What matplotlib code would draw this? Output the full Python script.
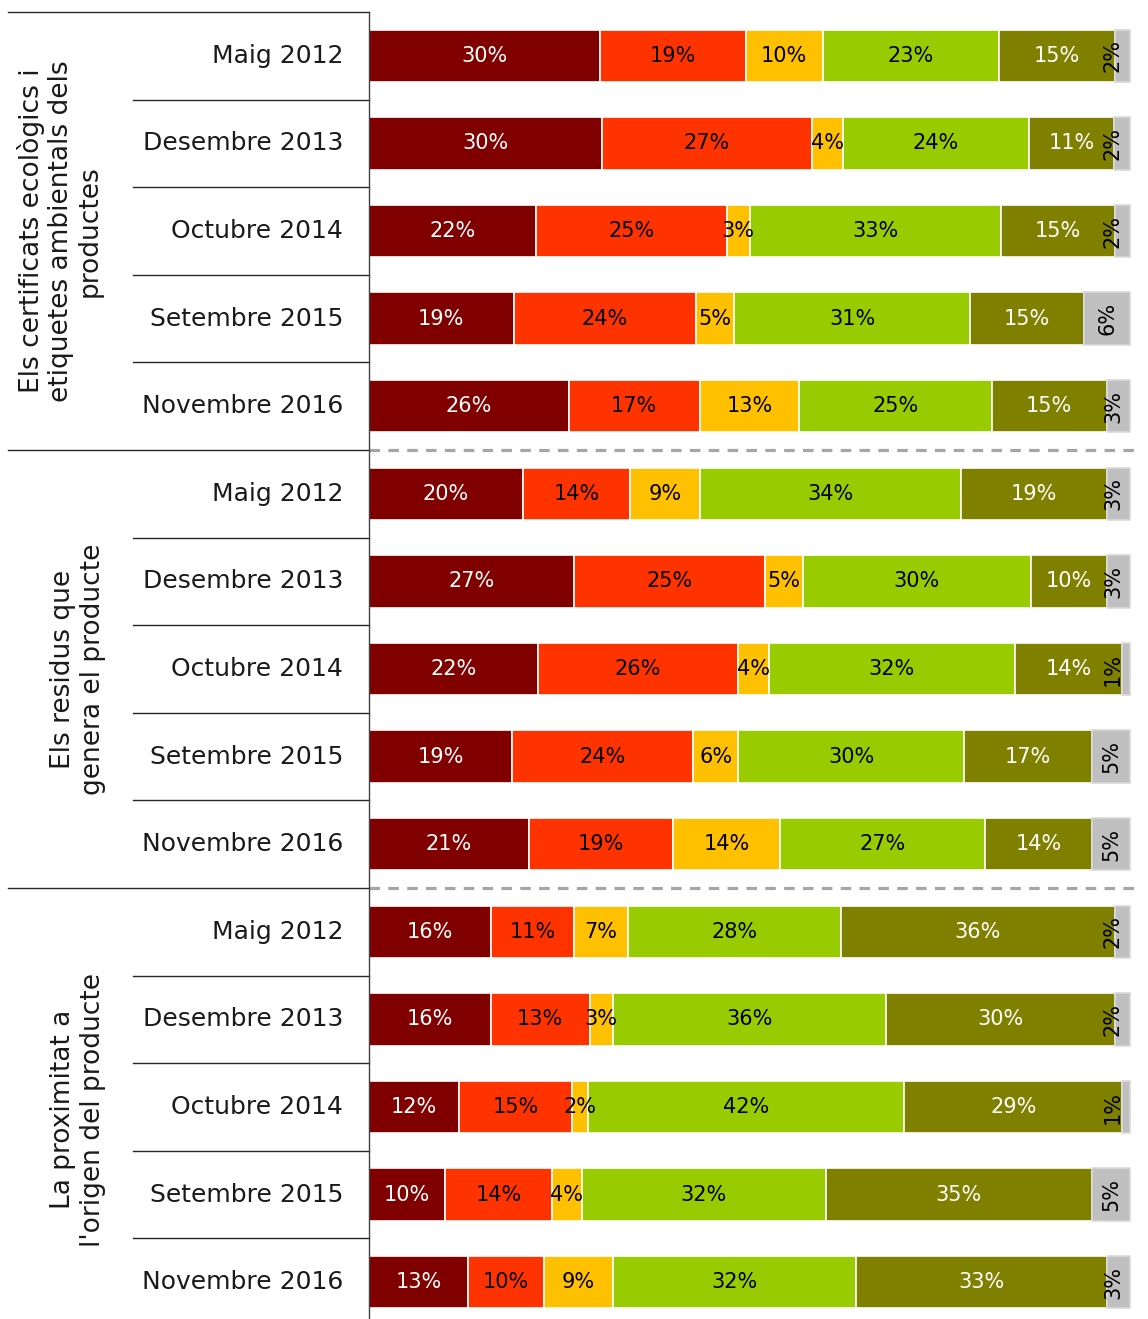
import matplotlib
matplotlib.use("Agg")
import matplotlib.pyplot as plt
import numpy as np

# ---- data ----
groups = [
    "Els certificats ecològics i\netiquetes ambientals dels\nproductes",
    "Els residus que\ngenera el producte",
    "La proximitat a\nl'origen del producte",
]
periods = ["Maig 2012", "Desembre 2013", "Octubre 2014", "Setembre 2015", "Novembre 2016"]

cert = [
    [30, 19, 10, 23, 15, 2],
    [30, 27, 4, 24, 11, 2],
    [22, 25, 3, 33, 15, 2],
    [19, 24, 5, 31, 15, 6],
    [26, 17, 13, 25, 15, 3],
]
residus = [
    [20, 14, 9, 34, 19, 3],
    [27, 25, 5, 30, 10, 3],
    [22, 26, 4, 32, 14, 1],
    [19, 24, 6, 30, 17, 5],
    [21, 19, 14, 27, 14, 5],
]
proximitat = [
    [16, 11, 7, 28, 36, 2],
    [16, 13, 3, 36, 30, 2],
    [12, 15, 2, 42, 29, 1],
    [10, 14, 4, 32, 35, 5],
    [13, 10, 9, 32, 33, 3],
]

seg_colors = ["#800000", "#FF3300", "#FFC000", "#99CC00", "#808000", "#BFBFBF"]
text_colors = ["white", "black", "black", "black", "white", "black"]

# ---- figure ----
W, H = 1148, 1319
fig = plt.figure(figsize=(W / 100, H / 100), dpi=100)
ax_left, ax_right = 369, 1141
ax_top, ax_bot = 12, 1326
ax = fig.add_axes([ax_left / W, 1 - ax_bot / H, (ax_right - ax_left) / W, (ax_bot - ax_top) / H])
ax_w = ax_right - ax_left
bars_end_px = 1130
xmax = 100 * ax_w / (bars_end_px - ax_left)

all_rows = cert + residus + proximitat
n = len(all_rows)
ax.set_ylim(n, 0)
ax.set_xlim(0, xmax)

for i, row in enumerate(all_rows):
    vals = np.array(row, dtype=float)
    norm = vals / vals.sum() * 100
    left = 0.0
    for j, (v, nv) in enumerate(zip(vals, norm)):
        ax.barh(i + 0.5, nv, left=left, height=0.6, color=seg_colors[j],
                edgecolor="white" if j < 5 else "#D9D9D9", linewidth=1.2, zorder=2)
        c = left + nv / 2
        lab = f"{int(v)}%"
        if j == 5:
            px = 100 * 17 / (bars_end_px - ax_left)
            x = min(c, 100 - px)
            ax.text(x, i + 0.5, lab, rotation=90, ha="center", va="center",
                    fontsize=15, color=text_colors[j], zorder=3)
        else:
            ax.text(c, i + 0.5, lab, ha="center", va="center",
                    fontsize=15, color=text_colors[j], zorder=3)
        left += nv

# spines
for s in ["top", "right", "bottom"]:
    ax.spines[s].set_visible(False)
ax.spines["left"].set_color("#404040")
ax.spines["left"].set_linewidth(1.0)
ax.set_xticks([])
ax.set_yticks([])

tr = ax.get_yaxis_transform()
x_short = (133 - ax_left) / ax_w
x_long = (8 - ax_left) / ax_w

# separator lines on the label area
for k in range(n + 1):
    x0 = x_long if k % 5 == 0 else x_short
    ax.plot([x0, 0], [k, k], transform=tr, color="#262626", lw=1.0, clip_on=False, zorder=1)

# dashed group separators on bar area
for k in [5, 10]:
    ax.plot([0, 1], [k, k], transform=tr, color="#A6A6A6", lw=2.3,
            dashes=[3.3, 2.6], clip_on=False, zorder=1, dash_capstyle="butt")

# period labels
x_lab = (343 - ax_left) / ax_w
for i in range(n):
    ax.text(x_lab, i + 0.5, periods[i % 5], transform=tr, ha="right", va="center",
            fontsize=18, color="#1a1a1a")

# group labels
gx = [(60 - ax_left) / ax_w, (78 - ax_left) / ax_w, (78 - ax_left) / ax_w]
gy = [2.5, 7.5, 12.5 + 0.03]
for g, lab in enumerate(groups):
    ax.text(gx[g], gy[g], lab, transform=tr, rotation=90, ha="center", va="center",
            fontsize=19, color="#1a1a1a", linespacing=1.15, multialignment="center")

fig.savefig("out.png", dpi=100)
